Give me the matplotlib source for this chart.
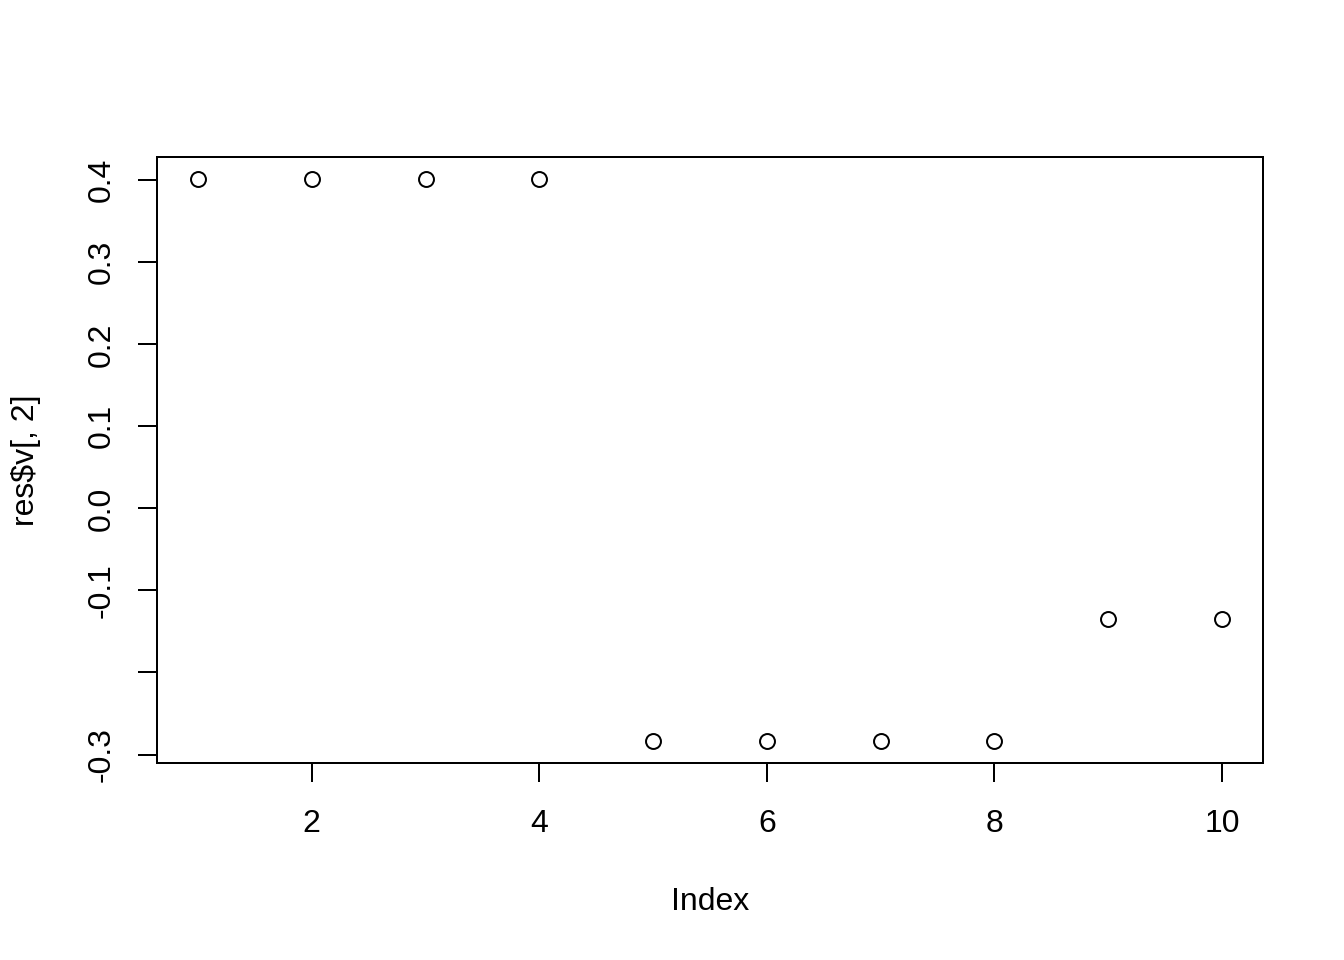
import matplotlib.pyplot as plt
import numpy as np

plt.rcParams['font.family'] = ['Liberation Sans', 'DejaVu Sans']

# data
index = [1, 2, 3, 4, 5, 6, 7, 8, 9, 10]
v2 = [0.401, 0.401, 0.401, 0.401, -0.283, -0.283, -0.283, -0.283, -0.135, -0.135]

x_ticks = [2, 4, 6, 8, 10]
y_ticks = [0.4, 0.3, 0.2, 0.1, 0.0, -0.1, -0.2, -0.3]
y_labels = ['0.4', '0.3', '0.2', '0.1', '0.0', '-0.1', '', '-0.3']

fig = plt.figure(figsize=(7, 5), dpi=192)
ax = fig.add_axes([157/1344, 1 - 763/960, (1263 - 157)/1344, (763 - 157)/960])

ax.plot(index, v2, linestyle='none', marker='o', markersize=5.6,
        markerfacecolor='none', markeredgecolor='black', markeredgewidth=0.75)

# R style 4% padding
ymin, ymax = min(v2), max(v2)
yr = ymax - ymin
ax.set_ylim(ymin - 0.04 * yr, ymax + 0.04 * yr)
ax.set_xlim(1 - 0.04 * 9, 10 + 0.04 * 9)

ax.set_xticks(x_ticks)
ax.set_xticklabels([str(t) for t in x_ticks])
ax.set_yticks(y_ticks)
ax.set_yticklabels(y_labels, rotation=90, va='center')

for s in ax.spines.values():
    s.set_linewidth(0.75)
    s.set_color('black')

ax.tick_params(axis='both', direction='out', length=7.2, width=0.75,
               labelsize=12, colors='black')
ax.tick_params(axis='x', pad=10)
ax.tick_params(axis='y', pad=8)

ax.set_xlabel('Index', fontsize=12, labelpad=18)
ax.set_ylabel('res$v[, 2]', fontsize=12, labelpad=17)

fig.savefig('out.png', dpi=192, facecolor='white')
plt.close(fig)
